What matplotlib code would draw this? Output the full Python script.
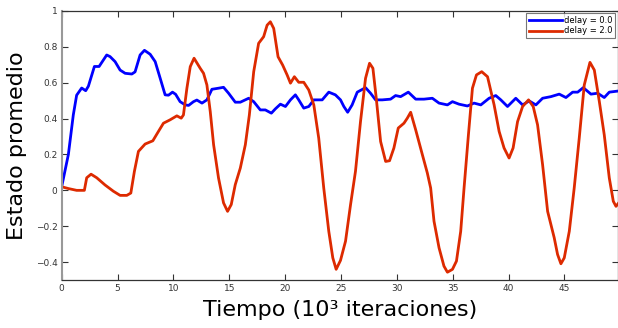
import matplotlib
matplotlib.use("Agg")
import matplotlib.pyplot as plt

# delay = 0.0 (blue)
t_blue = [0.0, 0.6, 1.04, 1.34, 1.79, 2.15, 2.39, 2.93, 3.35, 4.03, 4.33, 4.78, 5.23, 5.68,
          6.28, 6.57, 7.02, 7.41, 7.92, 8.37, 8.82, 9.26, 9.56, 9.92, 10.2, 10.6, 11.06,
          11.36, 11.8, 12.1, 12.56, 13.0, 13.45, 14.04, 14.49, 14.94, 15.54, 15.99, 16.74,
          17.19, 17.78, 18.23, 18.77, 19.13, 19.58, 20.03, 20.48, 20.92, 21.22, 21.67,
          22.12, 22.57, 23.32, 23.91, 24.5, 24.96, 25.26, 25.6, 26.0, 26.46, 27.2, 27.65,
          28.1, 28.7, 29.44, 29.89, 30.34, 31.03, 31.69, 32.43, 33.18, 33.78, 34.53, 34.98,
          35.57, 36.32, 36.91, 37.52, 38.26, 38.86, 39.31, 39.91, 40.65, 41.26, 41.85,
          42.45, 43.05, 43.79, 44.54, 45.14, 45.74, 46.19, 46.69, 47.38, 47.98, 48.57,
          49.02, 49.92]
y_blue = [0.02, 0.2, 0.42, 0.53, 0.57, 0.555, 0.58, 0.69, 0.69, 0.754, 0.745, 0.717, 0.67,
          0.652, 0.648, 0.66, 0.754, 0.78, 0.758, 0.717, 0.624, 0.532, 0.53, 0.547, 0.535,
          0.494, 0.476, 0.473, 0.494, 0.503, 0.486, 0.504, 0.563, 0.569, 0.574, 0.541,
          0.491, 0.491, 0.513, 0.494, 0.448, 0.448, 0.43, 0.454, 0.48, 0.467, 0.504, 0.532,
          0.504, 0.458, 0.467, 0.504, 0.504, 0.547, 0.532, 0.504, 0.467, 0.435, 0.476,
          0.547, 0.572, 0.541, 0.504, 0.504, 0.508, 0.528, 0.522, 0.547, 0.508, 0.508,
          0.513, 0.486, 0.476, 0.494, 0.48, 0.47, 0.486, 0.476, 0.513, 0.528, 0.504, 0.467,
          0.513, 0.476, 0.498, 0.476, 0.513, 0.522, 0.536, 0.517, 0.547, 0.547, 0.572,
          0.536, 0.541, 0.517, 0.547, 0.554]

# delay = 2.0 (red)
t_red = [0.0, 0.6, 1.34, 2.03, 2.24, 2.63, 3.14, 3.88, 4.63, 5.23, 5.83, 6.19, 6.51, 6.87,
         7.47, 8.16, 8.66, 9.11, 9.71, 10.31, 10.7, 10.9, 11.21, 11.51, 11.85, 12.4, 12.7,
         13.0, 13.3, 13.6, 14.04, 14.49, 14.85, 15.18, 15.54, 15.99, 16.44, 16.8, 17.19,
         17.63, 18.08, 18.39, 18.68, 18.98, 19.37, 19.78, 20.18, 20.48, 20.83, 21.22, 21.67,
         22.12, 22.57, 23.01, 23.46, 23.91, 24.27, 24.57, 24.96, 25.41, 25.86, 26.3, 26.75,
         27.2, 27.56, 27.86, 28.16, 28.55, 29.0, 29.35, 29.74, 30.13, 30.64, 30.94, 31.24,
         31.69, 32.29, 32.73, 33.03, 33.33, 33.78, 34.22, 34.53, 34.98, 35.34, 35.72, 36.02,
         36.41, 36.77, 37.13, 37.6, 38.12, 38.71, 39.16, 39.6, 40.05, 40.41, 40.81, 41.26,
         41.79, 42.21, 42.6, 43.05, 43.5, 44.09, 44.39, 44.69, 44.99, 45.44, 45.88, 46.33,
         46.78, 47.29, 47.68, 48.13, 48.57, 49.02, 49.38, 49.62, 49.86]
y_red = [0.02, 0.01, 0.0, 0.0, 0.07, 0.09, 0.07, 0.03, -0.005, -0.028, -0.028, -0.015,
         0.106, 0.217, 0.258, 0.276, 0.328, 0.374, 0.393, 0.415, 0.402, 0.42, 0.569, 0.689,
         0.736, 0.68, 0.652, 0.587, 0.439, 0.254, 0.069, -0.07, -0.117, -0.079, 0.032,
         0.124, 0.254, 0.42, 0.661, 0.819, 0.856, 0.92, 0.939, 0.902, 0.744, 0.698, 0.643,
         0.597, 0.633, 0.602, 0.602, 0.559, 0.476, 0.291, 0.013, -0.228, -0.376, -0.44,
         -0.39, -0.283, -0.079, 0.106, 0.383, 0.624, 0.708, 0.68, 0.513, 0.272, 0.161,
         0.165, 0.236, 0.347, 0.374, 0.402, 0.435, 0.337, 0.198, 0.097, 0.013, -0.172,
         -0.32, -0.422, -0.456, -0.44, -0.394, -0.228, 0.013, 0.309, 0.569, 0.643, 0.661,
         0.633, 0.476, 0.328, 0.236, 0.18, 0.236, 0.383, 0.467, 0.504, 0.467, 0.365, 0.143,
         -0.117, -0.264, -0.357, -0.409, -0.376, -0.228, 0.013, 0.291, 0.587, 0.713, 0.67,
         0.494, 0.309, 0.069, -0.061, -0.089, -0.07]

labels = ["delay = 0.0", "delay = 2.0"]
xticks = [0, 5, 10, 15, 20, 25, 30, 35, 40, 45]
yticks = [-0.4, -0.2, 0, 0.2, 0.4, 0.6, 0.8, 1]
yticklabels = ["\u22120.4", "\u22120.2", "0", "0.2", "0.4", "0.6", "0.8", "1"]

fig = plt.figure(figsize=(6.18, 3.28), dpi=100)
ax = fig.add_axes([0.0998, 0.146, 0.9002, 0.821])

ax.plot(t_blue, y_blue, color="#0000ff", lw=2.0, label=labels[0])
ax.plot(t_red, y_red, color="#dd2a00", lw=2.0, label=labels[1])

ax.set_xlim(0, 49.8)
ax.set_ylim(-0.5, 1.0)
ax.set_xticks(xticks)
ax.set_xticklabels([str(v) for v in xticks])
ax.set_yticks(yticks)
ax.set_yticklabels(yticklabels)
ax.tick_params(direction="in", top=True, right=True, labelsize=6.5,
               length=4, width=0.8, colors="#333333", pad=3)
for s in ax.spines.values():
    s.set_color("#333333")
    s.set_linewidth(0.9)
ax.spines["left"].set_color("#999999")
ax.spines["left"].set_linewidth(1.5)

ax.set_xlabel("Tiempo (10\u00b3 iteraciones)", fontsize=16, labelpad=5)
ax.set_ylabel("Estado promedio", fontsize=16, labelpad=6)

leg = ax.legend(loc="upper right", fontsize=6, frameon=True, fancybox=False,
                edgecolor="#555555", handlelength=4, borderaxespad=0.3,
                borderpad=0.3, labelspacing=0.2, handletextpad=0.3)
leg.get_frame().set_linewidth(0.8)

fig.savefig("out.png", dpi=100)
